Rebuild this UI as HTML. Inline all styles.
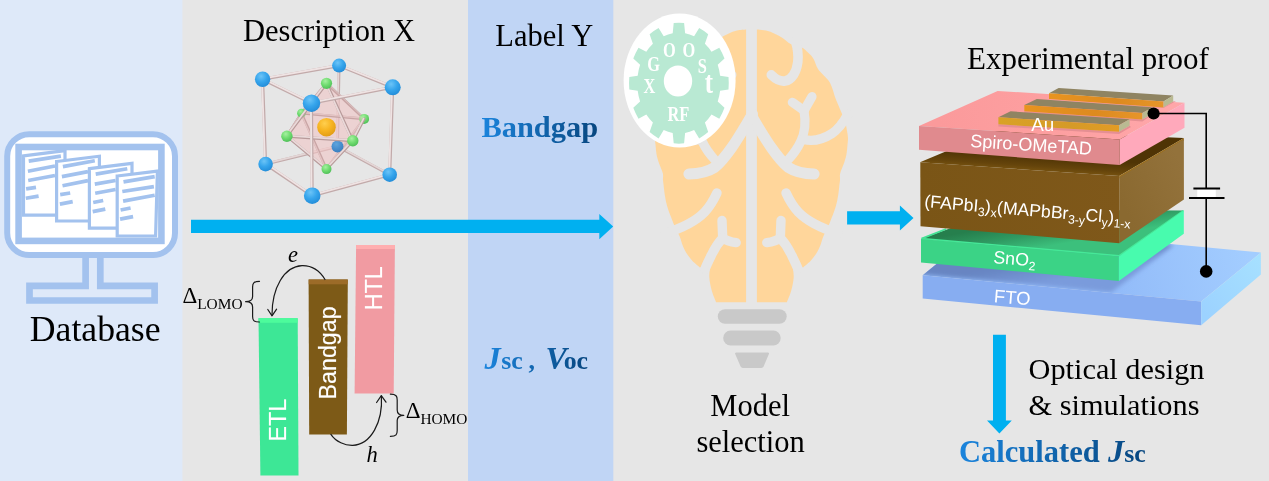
<!DOCTYPE html>
<html lang="en">
<head>
<meta charset="utf-8">
<title>Workflow: database, description, label, model selection, experimental proof</title>
<style>
html,body{margin:0;padding:0;background:#e6e6e6;overflow:hidden}
body{width:1269px;height:481px;position:relative;font-family:"Liberation Serif",serif}
svg{position:absolute;left:0;top:0;display:block;will-change:transform}
.serif{font-family:"Liberation Serif",serif}
.sans{font-family:"Liberation Sans",sans-serif}
</style>
</head>
<body>
<svg width="1269" height="481" viewBox="0 0 1269 481">
<defs>
<linearGradient id="gBlueText" gradientUnits="userSpaceOnUse" x1="482" y1="0" x2="598" y2="0">
<stop offset="0" stop-color="#1b84dc"/><stop offset="1" stop-color="#07467f"/>
</linearGradient>
<linearGradient id="gBlueText2" gradientUnits="userSpaceOnUse" x1="485" y1="0" x2="588" y2="0">
<stop offset="0" stop-color="#1b84dc"/><stop offset="1" stop-color="#07467f"/>
</linearGradient>
<linearGradient id="gBlueText3" gradientUnits="userSpaceOnUse" x1="961" y1="0" x2="1145" y2="0">
<stop offset="0" stop-color="#1b84dc"/><stop offset="1" stop-color="#07467f"/>
</linearGradient>
<radialGradient id="gSphBlue" cx="0.4" cy="0.3" r="0.75"><stop offset="0" stop-color="#6cc4f7"/><stop offset="0.5" stop-color="#36a5ec"/><stop offset="1" stop-color="#218ad6"/></radialGradient>
<radialGradient id="gSphBlueD" cx="0.4" cy="0.3" r="0.75"><stop offset="0" stop-color="#5fa4dc"/><stop offset="0.5" stop-color="#4890d0"/><stop offset="1" stop-color="#3a7cbc"/></radialGradient>
<radialGradient id="gSphGreen" cx="0.4" cy="0.3" r="0.75"><stop offset="0" stop-color="#a6f0a0"/><stop offset="0.5" stop-color="#70dc70"/><stop offset="1" stop-color="#4cbc56"/></radialGradient>
<radialGradient id="gSphOrange" cx="0.4" cy="0.3" r="0.75"><stop offset="0" stop-color="#ffcf4f"/><stop offset="0.5" stop-color="#f7b421"/><stop offset="1" stop-color="#e09a14"/></radialGradient>
<linearGradient id="gBrownF" x1="0" y1="0" x2="1" y2="0"><stop offset="0" stop-color="#7a5516"/><stop offset="1" stop-color="#7f581a"/></linearGradient>
<linearGradient id="gBrownT" gradientUnits="userSpaceOnUse" x1="1000.9" y1="154" x2="1000" y2="168"><stop offset="0" stop-color="#4f3405"/><stop offset="0.7" stop-color="#65440b"/><stop offset="1" stop-color="#74500f"/></linearGradient>
<linearGradient id="gPinkT" gradientUnits="userSpaceOnUse" x1="940" y1="130" x2="1150" y2="95"><stop offset="0" stop-color="#fb9a9b"/><stop offset="0.5" stop-color="#fd9fa0"/><stop offset="1" stop-color="#ffa6a9"/></linearGradient>
<linearGradient id="gGold" x1="0" y1="0" x2="1" y2="0"><stop offset="0" stop-color="#e8941f"/><stop offset="0.6" stop-color="#dd8a1f"/><stop offset="1" stop-color="#e6952a"/></linearGradient>
<linearGradient id="gGold2" x1="0" y1="0" x2="1" y2="0"><stop offset="0" stop-color="#d9a226"/><stop offset="0.6" stop-color="#d59a28"/><stop offset="1" stop-color="#e29c24"/></linearGradient>
<linearGradient id="gGreenT" gradientUnits="userSpaceOnUse" x1="1000" y1="226" x2="1005" y2="254"><stop offset="0" stop-color="#267f4d"/><stop offset="0.5" stop-color="#2f9a62"/><stop offset="1" stop-color="#3cc07c"/></linearGradient>
<linearGradient id="gBlueT" gradientUnits="userSpaceOnUse" x1="1120" y1="290" x2="1250" y2="255"><stop offset="0" stop-color="#93bcf9"/><stop offset="1" stop-color="#a3cdff"/></linearGradient>
<linearGradient id="gBlueR" gradientUnits="userSpaceOnUse" x1="1201" y1="310" x2="1261" y2="262"><stop offset="0" stop-color="#9cd2ff"/><stop offset="1" stop-color="#a6e0ff"/></linearGradient>
<clipPath id="clipBlueTop"><polygon points="922.7,275.3 982.4,226.4 1260.9,252.6 1201.2,301.5"/></clipPath>
<filter id="fBlur2" x="-10%" y="-20%" width="120%" height="140%"><feGaussianBlur stdDeviation="2.2"/></filter>
<linearGradient id="gBrownR" gradientUnits="userSpaceOnUse" x1="1120" y1="200" x2="1184" y2="170"><stop offset="0" stop-color="#8a6930"/><stop offset="1" stop-color="#93723b"/></linearGradient>
<linearGradient id="gShadow" gradientUnits="userSpaceOnUse" x1="1000" y1="268" x2="1004" y2="290"><stop offset="0" stop-color="#6785c2"/><stop offset="1" stop-color="#7a9bdc"/></linearGradient>

</defs>
<!-- BACKGROUND PANELS -->
<rect x="0" y="0" width="1269" height="481" fill="#e6e6e6"/>
<rect x="0" y="0" width="182.4" height="481" fill="#dee9f9"/>
<rect x="468" y="0" width="145.3" height="481" fill="#c0d5f5"/>
<!-- MONITOR -->
<g id="monitor">
<rect x="7.2" y="134.3" width="167.8" height="120.7" rx="22" ry="22" fill="#ffffff" stroke="#a3c2ee" stroke-width="6"/>
<g fill="#ffffff" stroke="#a3c2ee" stroke-width="3.2" stroke-linejoin="miter">
<polygon points="23.5,155.8 65,150.6 65,215.2 23.5,215.2"/>
<polygon points="56.6,161.5 99.4,156.2 99.4,221 56.6,221"/>
<polygon points="89.4,168.6 132,163.3 132,228.2 89.4,228.2"/>
<polygon points="117.2,176 157.4,171.1 155.6,236 117.2,236"/>
</g>
<g fill="none" stroke="#a3c2ee" stroke-width="3.7" stroke-linecap="butt">
<path d="M28.7 161.1 L60.9 156.1 M27.9 171.2 L55 166 M28.2 180.5 L55 175.5 M26.1 188.9 L36 187.3 M25.8 198.3 L38.6 196.1"/>
<path d="M62.9 166.6 L94.8 160.8 M61.9 176.6 L88 171.6 M62.5 185.7 L88 180.6 M60.2 194.6 L70.2 193 M59.9 204.1 L72.7 201.6"/>
<path d="M95.7 174.1 L127.3 168.8 M94.8 184.1 L115.6 180.5 M95.2 193.3 L115.6 189.5 M93.2 202.5 L103.2 200.5 M92.7 211.6 L105.3 209.1"/>
<path d="M123.5 181.9 L154.7 176.6 M122.3 191.5 L153.9 186.6 M123.1 201.1 L154.7 195.3 M120.6 210 L130.6 208 M120.1 219.1 L133.1 216.6"/>
</g>
<rect x="18.6" y="147" width="142.8" height="93.9" fill="none" stroke="#a3c2ee" stroke-width="6.6"/>
<path d="M85.6 258 V285.8 H29.5 V300.5 H154.6 V285.8 H100.3 V258" fill="none" stroke="#a3c2ee" stroke-width="6.7" stroke-linejoin="miter"/>
</g>

<!-- BRAIN BULB ICON -->
<g id="brain">
<g id="brainR"><path d="M756.9 29.6 C758.4 29.8 763.0 29.9 766.0 30.6 C769.0 31.3 771.9 32.4 774.7 33.7 C777.5 35.0 780.3 36.5 783.0 38.2 C785.7 39.9 787.6 42.5 790.7 44.0 C793.8 45.5 798.8 46.0 801.7 47.4 C804.6 48.8 806.0 50.6 808.0 52.5 C810.0 54.4 811.9 56.1 813.6 58.9 C815.3 61.7 815.7 65.6 818.2 69.2 C820.7 72.8 826.1 77.3 828.5 80.6 C830.9 83.9 831.4 86.2 832.5 89.0 C833.6 91.8 833.9 94.0 835.3 97.7 C836.7 101.5 839.4 107.6 841.0 111.5 C842.6 115.4 844.0 118.0 845.0 121.0 C846.0 124.0 846.3 126.9 846.8 129.7 C847.3 132.5 847.9 135.3 848.0 138.0 C848.1 140.7 847.6 143.0 847.4 145.7 C847.1 148.4 847.0 151.3 846.5 154.0 C846.0 156.7 845.5 158.5 844.5 161.7 C843.5 164.9 841.0 170.1 840.2 173.2 C839.5 176.2 840.2 177.7 840.0 180.0 C839.8 182.3 839.5 184.2 839.2 186.9 C838.9 189.6 838.5 193.0 838.0 196.2 C837.5 199.4 836.8 202.8 835.9 206.0 C835.0 209.2 834.0 211.8 832.8 215.1 C831.5 218.4 830.0 222.4 828.4 226.0 C826.8 229.6 824.5 233.6 823.2 236.8 C821.9 240.0 821.6 242.3 820.5 245.0 C819.4 247.7 818.3 250.3 816.6 253.0 C814.9 255.7 812.8 258.6 810.5 261.0 C808.2 263.4 804.3 266.3 803.1 267.4 L792.6 266.0 C792.8 267.9 793.9 273.2 793.7 277.3 C793.5 281.4 792.3 286.7 791.2 290.8 C790.1 294.9 787.6 300.3 786.9 302.2 L756.9 302.2 Z" fill="#ffd69b"/>
<g fill="none" stroke="#e6e6e6" stroke-linecap="round" stroke-linejoin="round">
<path d="M771.3 74.9 C776 79.5 781 81.6 785 81 C792 80 796.5 72 797.8 62 C798.6 55 797.6 48 795.5 41" stroke-width="9.6"/>
<path d="M792.3 102.3 L804 110.6" stroke-width="9.2"/>
<path d="M812 96.6 L804 110.6" stroke-width="9.2"/>
<path d="M804 110.6 C806 122 805 133 800.5 142 C797.5 148.5 793.5 154 788 160" stroke-width="9.2"/>
<path d="M803.5 139.5 C812 141.5 822 140 832 133.5 C838 129.5 843 123 848 114" stroke-width="9.4"/>
<path d="M750.5 114 L757 125 C763 135 767 141.5 771.6 148 C776.5 155 782 162 788.3 167.4 C795 171.8 803 173.8 814.1 174" stroke-width="11"/>
<path d="M786.1 193 C790 201.5 794 207.5 798.5 212.3 C807 221 819 227.5 838 233.5" stroke-width="9.6"/>
<path d="M781 220.5 L780.3 238" stroke-width="9.4"/>
<path d="M766.8 242.6 C772 242 777 240.5 780.3 238" stroke-width="9.4"/>
<path d="M780.3 238 C785 243 789 249.5 792 256 C794.5 261 796.5 265 798 269" stroke-width="9.6"/>
</g></g>
<g transform="translate(1503.0 0) scale(-1 1)"><path d="M756.9 29.6 C758.4 29.8 763.0 29.9 766.0 30.6 C769.0 31.3 771.9 32.4 774.7 33.7 C777.5 35.0 780.3 36.5 783.0 38.2 C785.7 39.9 787.6 42.5 790.7 44.0 C793.8 45.5 798.8 46.0 801.7 47.4 C804.6 48.8 806.0 50.6 808.0 52.5 C810.0 54.4 811.9 56.1 813.6 58.9 C815.3 61.7 815.7 65.6 818.2 69.2 C820.7 72.8 826.1 77.3 828.5 80.6 C830.9 83.9 831.4 86.2 832.5 89.0 C833.6 91.8 833.9 94.0 835.3 97.7 C836.7 101.5 839.4 107.6 841.0 111.5 C842.6 115.4 844.0 118.0 845.0 121.0 C846.0 124.0 846.3 126.9 846.8 129.7 C847.3 132.5 847.9 135.3 848.0 138.0 C848.1 140.7 847.6 143.0 847.4 145.7 C847.1 148.4 847.0 151.3 846.5 154.0 C846.0 156.7 845.5 158.5 844.5 161.7 C843.5 164.9 841.0 170.1 840.2 173.2 C839.5 176.2 840.2 177.7 840.0 180.0 C839.8 182.3 839.5 184.2 839.2 186.9 C838.9 189.6 838.5 193.0 838.0 196.2 C837.5 199.4 836.8 202.8 835.9 206.0 C835.0 209.2 834.0 211.8 832.8 215.1 C831.5 218.4 830.0 222.4 828.4 226.0 C826.8 229.6 824.5 233.6 823.2 236.8 C821.9 240.0 821.6 242.3 820.5 245.0 C819.4 247.7 818.3 250.3 816.6 253.0 C814.9 255.7 812.8 258.6 810.5 261.0 C808.2 263.4 804.3 266.3 803.1 267.4 L792.6 266.0 C792.8 267.9 793.9 273.2 793.7 277.3 C793.5 281.4 792.3 286.7 791.2 290.8 C790.1 294.9 787.6 300.3 786.9 302.2 L756.9 302.2 Z" fill="#ffd69b"/>
<g fill="none" stroke="#e6e6e6" stroke-linecap="round" stroke-linejoin="round">
<path d="M771.3 74.9 C776 79.5 781 81.6 785 81 C792 80 796.5 72 797.8 62 C798.6 55 797.6 48 795.5 41" stroke-width="9.6"/>
<path d="M792.3 102.3 L804 110.6" stroke-width="9.2"/>
<path d="M812 96.6 L804 110.6" stroke-width="9.2"/>
<path d="M804 110.6 C806 122 805 133 800.5 142 C797.5 148.5 793.5 154 788 160" stroke-width="9.2"/>
<path d="M803.5 139.5 C812 141.5 822 140 832 133.5 C838 129.5 843 123 848 114" stroke-width="9.4"/>
<path d="M750.5 114 L757 125 C763 135 767 141.5 771.6 148 C776.5 155 782 162 788.3 167.4 C795 171.8 803 173.8 814.1 174" stroke-width="11"/>
<path d="M786.1 193 C790 201.5 794 207.5 798.5 212.3 C807 221 819 227.5 838 233.5" stroke-width="9.6"/>
<path d="M781 220.5 L780.3 238" stroke-width="9.4"/>
<path d="M766.8 242.6 C772 242 777 240.5 780.3 238" stroke-width="9.4"/>
<path d="M780.3 238 C785 243 789 249.5 792 256 C794.5 261 796.5 265 798 269" stroke-width="9.6"/>
</g></g>
<rect x="717.8" y="309.2" width="68.9" height="14.6" rx="7.3" fill="#c9c9c9"/>
<rect x="723.2" y="330.6" width="57.5" height="14.8" rx="7.4" fill="#c9c9c9"/>
<path d="M736.5 352.4 H767.6 Q769.6 352.4 768.8 354.3 L763.6 366.6 Q763 368 761.4 368 H742.8 Q741.2 368 740.6 366.6 L735.3 354.3 Q734.5 352.4 736.5 352.4 Z" fill="#c9c9c9"/>
</g>

<!-- GEAR BADGE -->
<g id="gear">
<ellipse cx="679.6" cy="80.6" rx="56" ry="67" fill="#ffffff"/>
<path d="M672.7 33.3 L673.7 23.1 A49.9 60.4 0 0 1 684.1 23.1 L685.1 33.3 A41.7 50.4 0 0 1 694.1 36.3 L699.2 28.0 A49.9 60.4 0 0 1 708.2 34.3 L704.9 43.8 A41.7 50.4 0 0 1 711.5 51.8 L719.3 47.7 A49.9 60.4 0 0 1 724.5 58.6 L717.7 64.8 A41.7 50.4 0 0 1 720.1 75.7 L728.5 76.9 A49.9 60.4 0 0 1 728.5 89.5 L720.1 90.7 A41.7 50.4 0 0 1 717.7 101.6 L724.5 107.8 A49.9 60.4 0 0 1 719.3 118.7 L711.5 114.6 A41.7 50.4 0 0 1 704.9 122.6 L708.2 132.1 A49.9 60.4 0 0 1 699.2 138.4 L694.1 130.1 A41.7 50.4 0 0 1 685.1 133.1 L684.1 143.3 A49.9 60.4 0 0 1 673.7 143.3 L672.7 133.1 A41.7 50.4 0 0 1 663.7 130.1 L658.6 138.4 A49.9 60.4 0 0 1 649.6 132.1 L652.9 122.6 A41.7 50.4 0 0 1 646.3 114.6 L638.5 118.7 A49.9 60.4 0 0 1 633.3 107.8 L640.1 101.6 A41.7 50.4 0 0 1 637.7 90.7 L629.3 89.5 A49.9 60.4 0 0 1 629.3 76.9 L637.7 75.7 A41.7 50.4 0 0 1 640.1 64.8 L633.3 58.6 A49.9 60.4 0 0 1 638.5 47.7 L646.3 51.8 A41.7 50.4 0 0 1 652.9 43.8 L649.6 34.3 A49.9 60.4 0 0 1 658.6 28.0 L663.7 36.3 A41.7 50.4 0 0 1 672.7 33.3 Z" fill="#b9e9d3"/>
<ellipse cx="678" cy="81" rx="14.2" ry="15.6" fill="#ffffff"/>
<g class="serif" font-weight="bold" fill="#ffffff" font-size="20.5" text-anchor="middle">
<text transform="translate(653.6 71.3) scale(0.8 1)">G</text>
<text transform="translate(669.3 57.2) scale(0.8 1)">O</text>
<text transform="translate(688.9 57.2) scale(0.8 1)">O</text>
<text transform="translate(702.2 72.5) scale(0.8 1)">S</text>
<text transform="translate(709 93.2) scale(0.8 1)" font-size="31">t</text>
<text transform="translate(649.4 92.8) scale(0.8 1)">X</text>
<text transform="translate(678.3 120.8) scale(0.8 1)">RF</text>
</g>
</g>

<!-- MAIN ARROWS -->
<path d="M191 219.8 H599.3 V214 L613.2 226.5 L599.3 239.2 V233 H191 Z" fill="#00b0f0"/>
<path d="M847.1 211.3 H899.9 V205.5 L913.5 218 L899.9 230.4 V224.4 H847.1 Z" fill="#00b0f0"/>
<path d="M993 334.7 H1005.9 V420.4 H1011.8 L999.4 433.6 L987 420.4 H993 Z" fill="#00b0f0"/>
<!-- CRYSTAL STRUCTURE -->
<g id="crystal">
<line x1="339.1" y1="65.6" x2="337.5" y2="146.5" stroke="#c3abab" stroke-width="2.9" stroke-linecap="round"/><line x1="338.52" y1="65.59" x2="336.92" y2="146.49" stroke="#e4d6d6" stroke-width="1.74" stroke-linecap="round"/>
<line x1="265.6" y1="164.1" x2="337.5" y2="146.5" stroke="#c3abab" stroke-width="2.9" stroke-linecap="round"/><line x1="265.46" y1="163.54" x2="337.36" y2="145.94" stroke="#e4d6d6" stroke-width="1.74" stroke-linecap="round"/>
<line x1="389.7" y1="174.7" x2="337.5" y2="146.5" stroke="#c3abab" stroke-width="2.9" stroke-linecap="round"/><line x1="389.98" y1="174.19" x2="337.78" y2="145.99" stroke="#e4d6d6" stroke-width="1.74" stroke-linecap="round"/>
<polygon points="326.5,83.3 301.5,113.2 364.1,118.9" fill="#eaadad" fill-opacity="0.34"/>
<polygon points="326.5,169.1 301.5,113.2 364.1,118.9" fill="#eaadad" fill-opacity="0.34"/>
<polygon points="326.5,83.3 301.5,113.2 286.9,136.2" fill="#eaadad" fill-opacity="0.34"/>
<polygon points="326.5,169.1 301.5,113.2 286.9,136.2" fill="#eaadad" fill-opacity="0.34"/>
<line x1="326.5" y1="83.3" x2="301.5" y2="113.2" stroke="#b08c8c" stroke-width="2.6" stroke-linecap="round"/><line x1="326.00" y1="82.88" x2="301.00" y2="112.78" stroke="#d9bcbc" stroke-width="1.30" stroke-linecap="round"/>
<line x1="326.5" y1="83.3" x2="364.1" y2="118.9" stroke="#b08c8c" stroke-width="2.6" stroke-linecap="round"/><line x1="326.95" y1="82.83" x2="364.55" y2="118.43" stroke="#d9bcbc" stroke-width="1.30" stroke-linecap="round"/>
<line x1="326.5" y1="169.1" x2="301.5" y2="113.2" stroke="#b08c8c" stroke-width="2.6" stroke-linecap="round"/><line x1="325.91" y1="169.37" x2="300.91" y2="113.47" stroke="#d9bcbc" stroke-width="1.30" stroke-linecap="round"/>
<line x1="326.5" y1="169.1" x2="364.1" y2="118.9" stroke="#b08c8c" stroke-width="2.6" stroke-linecap="round"/><line x1="325.98" y1="168.71" x2="363.58" y2="118.51" stroke="#d9bcbc" stroke-width="1.30" stroke-linecap="round"/>
<line x1="301.5" y1="113.2" x2="364.1" y2="118.9" stroke="#b08c8c" stroke-width="2.6" stroke-linecap="round"/><line x1="301.56" y1="112.55" x2="364.16" y2="118.25" stroke="#d9bcbc" stroke-width="1.30" stroke-linecap="round"/>
<line x1="301.5" y1="113.2" x2="286.9" y2="136.2" stroke="#b08c8c" stroke-width="2.6" stroke-linecap="round"/><line x1="300.95" y1="112.85" x2="286.35" y2="135.85" stroke="#d9bcbc" stroke-width="1.30" stroke-linecap="round"/>
<circle cx="301.5" cy="113.2" r="4.4" fill="url(#gSphGreen)"/>
<circle cx="364.1" cy="118.9" r="5.0" fill="url(#gSphGreen)"/>
<polygon points="326.5,83.3 286.9,136.2 352.8,140.8" fill="#f8d2d2" fill-opacity="0.36"/>
<polygon points="326.5,169.1 286.9,136.2 352.8,140.8" fill="#f8d2d2" fill-opacity="0.36"/>
<polygon points="326.5,83.3 352.8,140.8 364.1,118.9" fill="#f8d2d2" fill-opacity="0.36"/>
<polygon points="326.5,169.1 352.8,140.8 364.1,118.9" fill="#f8d2d2" fill-opacity="0.36"/>
<circle cx="337.5" cy="146.5" r="6" fill="url(#gSphBlueD)"/>
<circle cx="326.5" cy="127.2" r="9.3" fill="url(#gSphOrange)"/>
<line x1="326.5" y1="83.3" x2="286.9" y2="136.2" stroke="#b89b9b" stroke-width="2.9" stroke-linecap="round"/><line x1="326.04" y1="82.95" x2="286.44" y2="135.85" stroke="#ead9d9" stroke-width="1.74" stroke-linecap="round"/>
<line x1="326.5" y1="83.3" x2="352.8" y2="140.8" stroke="#b89b9b" stroke-width="2.9" stroke-linecap="round"/><line x1="325.97" y1="83.54" x2="352.27" y2="141.04" stroke="#ead9d9" stroke-width="1.74" stroke-linecap="round"/>
<line x1="326.5" y1="169.1" x2="286.9" y2="136.2" stroke="#b89b9b" stroke-width="2.9" stroke-linecap="round"/><line x1="326.87" y1="168.65" x2="287.27" y2="135.75" stroke="#ead9d9" stroke-width="1.74" stroke-linecap="round"/>
<line x1="326.5" y1="169.1" x2="352.8" y2="140.8" stroke="#b89b9b" stroke-width="2.9" stroke-linecap="round"/><line x1="326.08" y1="168.71" x2="352.38" y2="140.41" stroke="#ead9d9" stroke-width="1.74" stroke-linecap="round"/>
<line x1="286.9" y1="136.2" x2="352.8" y2="140.8" stroke="#b89b9b" stroke-width="2.9" stroke-linecap="round"/><line x1="286.94" y1="135.62" x2="352.84" y2="140.22" stroke="#ead9d9" stroke-width="1.74" stroke-linecap="round"/>
<line x1="352.8" y1="140.8" x2="364.1" y2="118.9" stroke="#b89b9b" stroke-width="2.9" stroke-linecap="round"/><line x1="352.28" y1="140.53" x2="363.58" y2="118.63" stroke="#ead9d9" stroke-width="1.74" stroke-linecap="round"/>
<circle cx="326.5" cy="83.3" r="5.6" fill="url(#gSphGreen)"/>
<circle cx="326.5" cy="169.1" r="5.0" fill="url(#gSphGreen)"/>
<circle cx="286.9" cy="136.2" r="5.7" fill="url(#gSphGreen)"/>
<circle cx="352.8" cy="140.8" r="5.7" fill="url(#gSphGreen)"/>
<line x1="262.6" y1="79.3" x2="339.1" y2="65.6" stroke="#c2aaaa" stroke-width="3.1" stroke-linecap="round"/><line x1="262.49" y1="78.69" x2="338.99" y2="64.99" stroke="#efe3e3" stroke-width="1.86" stroke-linecap="round"/>
<line x1="339.1" y1="65.6" x2="392.7" y2="87.3" stroke="#c2aaaa" stroke-width="3.1" stroke-linecap="round"/><line x1="339.33" y1="65.03" x2="392.93" y2="86.73" stroke="#efe3e3" stroke-width="1.86" stroke-linecap="round"/>
<line x1="392.7" y1="87.3" x2="311.5" y2="103.2" stroke="#c2aaaa" stroke-width="3.1" stroke-linecap="round"/><line x1="392.58" y1="86.69" x2="311.38" y2="102.59" stroke="#efe3e3" stroke-width="1.86" stroke-linecap="round"/>
<line x1="311.5" y1="103.2" x2="262.6" y2="79.3" stroke="#c2aaaa" stroke-width="3.1" stroke-linecap="round"/><line x1="311.77" y1="102.64" x2="262.87" y2="78.74" stroke="#efe3e3" stroke-width="1.86" stroke-linecap="round"/>
<line x1="262.6" y1="79.3" x2="265.6" y2="164.1" stroke="#c2aaaa" stroke-width="3.1" stroke-linecap="round"/><line x1="261.98" y1="79.32" x2="264.98" y2="164.12" stroke="#efe3e3" stroke-width="1.86" stroke-linecap="round"/>
<line x1="392.7" y1="87.3" x2="389.7" y2="174.7" stroke="#c2aaaa" stroke-width="3.1" stroke-linecap="round"/><line x1="392.08" y1="87.28" x2="389.08" y2="174.68" stroke="#efe3e3" stroke-width="1.86" stroke-linecap="round"/>
<line x1="311.5" y1="103.2" x2="312.2" y2="195.7" stroke="#c2aaaa" stroke-width="3.1" stroke-linecap="round"/><line x1="310.88" y1="103.20" x2="311.58" y2="195.70" stroke="#efe3e3" stroke-width="1.86" stroke-linecap="round"/>
<line x1="265.6" y1="164.1" x2="312.2" y2="195.7" stroke="#c2aaaa" stroke-width="3.1" stroke-linecap="round"/><line x1="265.95" y1="163.59" x2="312.55" y2="195.19" stroke="#efe3e3" stroke-width="1.86" stroke-linecap="round"/>
<line x1="312.2" y1="195.7" x2="389.7" y2="174.7" stroke="#c2aaaa" stroke-width="3.1" stroke-linecap="round"/><line x1="312.04" y1="195.10" x2="389.54" y2="174.10" stroke="#efe3e3" stroke-width="1.86" stroke-linecap="round"/>
<circle cx="339.1" cy="65.6" r="7.0" fill="url(#gSphBlue)"/>
<circle cx="262.6" cy="79.3" r="7.7" fill="url(#gSphBlue)"/>
<circle cx="392.7" cy="87.3" r="8.0" fill="url(#gSphBlue)"/>
<circle cx="265.6" cy="164.1" r="7.3" fill="url(#gSphBlue)"/>
<circle cx="389.7" cy="174.7" r="7.3" fill="url(#gSphBlue)"/>
<circle cx="311.5" cy="103.2" r="8.7" fill="url(#gSphBlue)"/>
<circle cx="312.2" cy="195.7" r="8.3" fill="url(#gSphBlue)"/>
</g>

<!-- ENERGY LEVEL DIAGRAM -->
<g id="energy">
<polygon points="258.5,318.2 297.7,318.2 298.5,475.6 260.4,475.6" fill="#3de796"/>
<rect x="258.5" y="318.2" width="39.2" height="4.6" fill="#4dfb9c"/>
<polygon points="308.6,279.5 347.8,279.5 346.9,434.5 309.2,434.5" fill="#7d5a17"/>
<rect x="308.7" y="279.5" width="39" height="4.8" fill="#9c6b28"/>
<polygon points="356.1,245 394.9,245 393.7,393.4 354.6,393.4" fill="#f19ba2"/>
<rect x="356.1" y="245" width="38.8" height="4" fill="#ffaeb0"/>
<g class="sans" fill="#ffffff" font-size="24.2" stroke="#ffffff" stroke-width="0.15">
<text transform="translate(285.9 441.4) rotate(-90) scale(0.96 1)">ETL</text>
<text transform="translate(336 399.4) rotate(-90) scale(0.96 1)">Bandgap</text>
<text transform="translate(381.9 310.3) rotate(-90) scale(0.96 1)">HTL</text>
</g>
<g fill="none" stroke="#1a1a1a" stroke-width="1.2" stroke-linecap="round" stroke-linejoin="round">
<path d="M325 279.5 C318 268 309 265.5 302 265.7 C284 266.5 272 288 272 315"/>
<path d="M267.8 309.5 L272 315.8 L276.6 309.2"/>
<path d="M330.9 434.4 C336 442 345 445.6 352.7 445.4 C371 444.5 383 422 381.4 396"/>
<path d="M376.6 402.5 L381.3 395.6 L386 402.2"/>
<path d="M259.5 281.3 C253.5 281.3 252.6 283.5 252.6 287 V296.5 C252.6 300 251 301.7 245.6 301.7 C251 301.7 252.6 303.4 252.6 307 V316.5 C252.6 320 253.5 322 259.5 322"/>
<path d="M390.4 394.2 C396.4 394.2 397.2 396.4 397.2 400 V410 C397.2 413.6 398.8 415.3 403.8 415.3 C398.8 415.3 397.2 417 397.2 420.6 V430.6 C397.2 434.2 396.4 436.4 390.4 436.4"/>
</g>
<g class="serif" fill="#000000">
<text x="182.6" y="303.3" font-size="23">Δ</text>
<text x="197.2" y="309.3" font-size="15.4">LOMO</text>
<text x="405.8" y="418.3" font-size="23">Δ</text>
<text x="420.4" y="423.6" font-size="15.4">HOMO</text>
<text x="288" y="262" font-size="22.5" font-style="italic">e</text>
<text x="366.6" y="461.6" font-size="22.5" font-style="italic">h</text>
</g>
</g>

<!-- DEVICE STACK -->
<g id="device">
<!-- FTO -->
<polygon points="922.7,275.3 982.4,226.4 1260.9,252.6 1201.2,301.5" fill="url(#gBlueT)"/>
<g clip-path="url(#clipBlueTop)"><polygon points="915,274 1111,292.4 1174,245 982.4,220" fill="url(#gShadow)" filter="url(#fBlur2)"/></g>
<polygon points="922.7,275.3 1201.2,301.5 1201.2,325.3 922.7,298.5" fill="#87adf1"/>
<polygon points="1201.2,301.5 1260.9,252.6 1260.9,274.4 1201.2,325.3" fill="url(#gBlueR)"/>
<!-- SnO2 -->
<polygon points="921,239 1000,210 1183.8,210.4 1118.9,256.6" fill="url(#gGreenT)"/>
<path d="M921.6 238.6 L1118.9 255.8 L1183.4 210.6" fill="none" stroke="#46e898" stroke-width="1.6"/>
<path d="M921.6 238.6 L946 229" fill="none" stroke="#44e294" stroke-width="1.8"/>
<polygon points="921,239 1118.9,256.4 1118.9,281 921,262.4" fill="#3bd386"/>
<polygon points="1118.9,256.4 1183.8,210.4 1183.8,233.7 1118.9,281" fill="#48fbae"/>
<!-- perovskite -->
<polygon points="920,162.3 997,130 1183.9,137.9 1119.2,176" fill="url(#gBrownT)"/>
<polygon points="1119.2,176 1183.9,137.9 1183.9,140.4 1119.2,178.6" fill="#9a6d1c"/>
<polygon points="920.3,162.3 1119.2,176 1119.2,243.2 920.5,226.2" fill="url(#gBrownF)"/>
<polygon points="1119.2,177.4 1183.9,139.2 1183.9,199.6 1119.2,243.2" fill="url(#gBrownR)"/>
<!-- Spiro -->
<polygon points="919,125.9 997.6,90.9 1184.5,102.8 1119.6,139.4" fill="url(#gPinkT)"/>
<polygon points="919,125.9 1119.6,139.4 1119.6,165 919,149.8" fill="#e08a8e"/>
<polygon points="1119.6,139.4 1184.5,102.8 1184.5,127.7 1119.6,165" fill="#ffa9bb"/>
<!-- Au bars: back, middle, front -->
<g>
<polygon points="1049,99.6 1163.5,108 1176,101 1173.2,101.5 1163.5,107.5" fill="#e58f93"/>
<polygon points="1049,93.3 1058.6,88 1173.2,95.5 1163.5,101.5" fill="#8f8462"/>
<polygon points="1049,93.3 1163.5,101.5 1163.5,107.5 1049,99.1" fill="url(#gGold)"/>
<polygon points="1163.5,101.5 1173.2,95.5 1173.2,101.5 1163.5,107.5" fill="#b9ba92"/>
<polygon points="1024.3,111.3 1142.4,119.6 1154,113.4 1142.4,121.4 1024.3,113" fill="#e58f93"/>
<polygon points="1024.3,104.9 1036.8,99.1 1152.5,107.3 1142.4,113.1" fill="#8f8462"/>
<polygon points="1024.3,104.9 1142.4,113.1 1142.4,119.6 1024.3,111.3" fill="url(#gGold)"/>
<polygon points="1142.4,113.1 1152.5,107.3 1152.5,113.6 1142.4,119.6" fill="#b9ba92"/>
<polygon points="998.4,124.3 1119,131.8 1129.6,125.8 1131,127 1119,134 998.4,126.4" fill="#e58f93"/>
<polygon points="998.4,117.3 1010.6,111.3 1129.6,119.3 1119,125.2" fill="#8f8462"/>
<polygon points="998.4,117.3 1119,125.2 1119,131.8 998.4,124.3" fill="url(#gGold2)"/>
<polygon points="1119,125.2 1129.6,119.3 1129.6,125.8 1119,131.8" fill="#b9ba92"/>
</g>
<!-- circuit -->
<g fill="none" stroke="#000000" stroke-width="1.6">
<path d="M1153.8 113.5 H1206.2 V188.5 M1206.2 198 V271.4"/>
<rect x="1197.2" y="188.5" width="18.6" height="9.5" fill="#ffffff" stroke="none"/>
<path d="M1193.4 188.5 H1220.1 M1189 198 H1224.5" stroke-width="1.8"/>
</g>
<circle cx="1153.6" cy="113.5" r="6.1" fill="#000000"/>
<circle cx="1206.2" cy="271.4" r="6.3" fill="#000000"/>
<!-- layer labels -->
<g class="sans" fill="#ffffff" font-size="17.8">
<text transform="translate(1031.2 130.9) scale(1.06 1)">Au</text>
<text transform="translate(970 147) rotate(3.7) scale(0.985 1)" font-size="18.3">Spiro-OMeTAD</text>
<text transform="translate(924 207.1) rotate(4.85) scale(1.005 1)" font-size="17.6">(FAPbI<tspan font-size="12.2" dy="4">3</tspan><tspan dy="-4">)</tspan><tspan font-size="12.2" dy="4">x</tspan><tspan dy="-4">(MAPbBr</tspan><tspan font-size="12.2" dy="4">3-y</tspan><tspan dy="-4">Cl</tspan><tspan font-size="12.2" dy="4">y</tspan><tspan dy="-4">)</tspan><tspan font-size="12.2" dy="4">1-x</tspan></text>
<text transform="translate(993 263) rotate(4.8)">SnO<tspan font-size="12.2" dy="4">2</tspan></text>
<text transform="translate(993.6 302.3) rotate(4.6)" font-size="18.4">FTO</text>
</g>
</g>

<!-- TEXT LABELS -->
<g class="serif" fill="#000000">
<text x="29.8" y="341" font-size="35.7">Database</text>
<text x="243" y="40.9" font-size="30.5">Description X</text>
<text x="495.3" y="45.8" font-size="30.5">Label Y</text>
<text x="710.3" y="415.5" font-size="30.5">Model</text>
<text x="696.4" y="452" font-size="30.5">selection</text>
<text x="967" y="69.1" font-size="31">Experimental proof</text>
<text x="1028.6" y="378.7" font-size="30.3">Optical design</text>
<text x="1028.6" y="415.4" font-size="30.3">&amp; simulations</text>
</g>
<g class="serif" font-weight="bold">
<text x="481.5" y="136.8" font-size="30.4" fill="url(#gBlueText)">Bandgap</text>
<text y="368.8" font-size="30" fill="url(#gBlueText2)"><tspan x="484.4" font-style="italic" font-size="32.5">J</tspan><tspan x="501.2" font-size="25.8">sc</tspan><tspan x="522" font-size="25.8"> , </tspan><tspan x="545.6" font-style="italic" font-size="32">V</tspan><tspan x="563.7" font-size="25.8">oc</tspan></text>
<text y="462" font-size="30.5" fill="url(#gBlueText3)"><tspan x="959">Calculated </tspan><tspan x="1108" font-style="italic" font-size="32.5">J</tspan><tspan x="1124.2" font-size="25.8">sc</tspan></text>
</g>

</svg>
</body>
</html>
